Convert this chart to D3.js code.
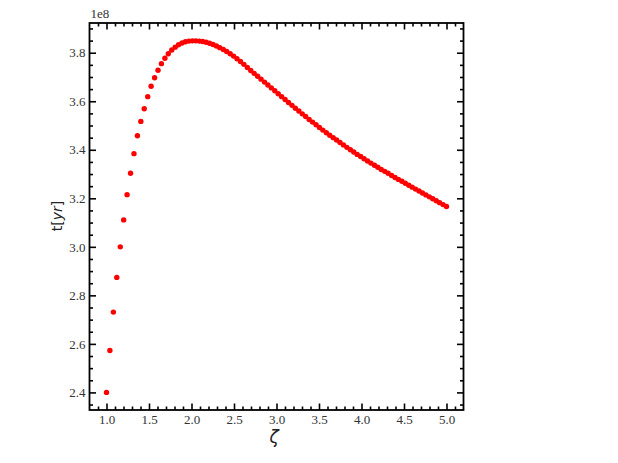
<!DOCTYPE html>
<html><head><meta charset="utf-8">
<script src="https://cdn.jsdelivr.net/npm/d3@7/dist/d3.min.js"></script>
<style>body{margin:0;background:#fff}svg{display:block}</style>
</head><body><svg id="c" width="618" height="463"></svg>
<script>
const zeta = [1.000,1.040,1.081,1.121,1.162,1.202,1.242,1.283,1.323,1.364,1.404,1.444,1.485,1.525,1.566,1.606,1.646,1.687,1.727,1.768,1.808,1.848,1.889,1.929,1.970,2.010,2.051,2.091,2.131,2.172,2.212,2.253,2.293,2.333,2.374,2.414,2.455,2.495,2.535,2.576,2.616,2.657,2.697,2.737,2.778,2.818,2.859,2.899,2.939,2.980,3.020,3.061,3.101,3.141,3.182,3.222,3.263,3.303,3.343,3.384,3.424,3.465,3.505,3.545,3.586,3.626,3.667,3.707,3.747,3.788,3.828,3.869,3.909,3.949,3.990,4.030,4.071,4.111,4.152,4.192,4.232,4.273,4.313,4.354,4.394,4.434,4.475,4.515,4.556,4.596,4.636,4.677,4.717,4.758,4.798,4.838,4.879,4.919,4.960,5.000];
const tYr = [2.400,2.573,2.731,2.874,3.000,3.111,3.215,3.303,3.384,3.458,3.517,3.569,3.619,3.662,3.697,3.728,3.755,3.777,3.796,3.811,3.823,3.833,3.840,3.845,3.848,3.849,3.849,3.848,3.846,3.843,3.839,3.834,3.828,3.821,3.813,3.805,3.796,3.786,3.775,3.764,3.752,3.739,3.727,3.715,3.703,3.691,3.679,3.667,3.655,3.643,3.631,3.619,3.607,3.595,3.583,3.571,3.560,3.548,3.537,3.525,3.514,3.503,3.492,3.481,3.470,3.460,3.450,3.440,3.430,3.420,3.410,3.400,3.391,3.381,3.372,3.363,3.354,3.345,3.336,3.328,3.319,3.311,3.303,3.294,3.286,3.278,3.270,3.262,3.254,3.246,3.238,3.230,3.222,3.214,3.206,3.198,3.190,3.182,3.174,3.166];
const xTicks = [1.0,1.5,2.0,2.5,3.0,3.5,4.0,4.5,5.0];
const xMinor = [0.9,1.1,1.2,1.3,1.4,1.6,1.7,1.8,1.9,2.1,2.2,2.3,2.4,2.6,2.7,2.8,2.9,3.1,3.2,3.3,3.4,3.6,3.7,3.8,3.9,4.1,4.2,4.3,4.4,4.6,4.7,4.8,4.9,5.1];
const yTicks = [2.4,2.6,2.8,3.0,3.2,3.4,3.6,3.8];
const yMinor = [2.35,2.45,2.5,2.55,2.65,2.7,2.75,2.85,2.9,2.95,3.05,3.1,3.15,3.25,3.3,3.35,3.45,3.5,3.55,3.65,3.7,3.75,3.85,3.9];

const svg = d3.select("#c");
const L=89.5, R=463.5, T=23, B=410;
const x = d3.scaleLinear().domain([0.8,5.2]).range([L,R]);
const y = d3.scaleLinear().domain([2.3275,3.9225]).range([B,T]);
const font = "Liberation Serif";

function styleAxis(g){
  g.select(".domain").remove();
  g.selectAll(".tick line").attr("stroke","#000").attr("stroke-width",1.6);
  g.selectAll(".tick text").attr("fill","#333").style("font-family",font).style("font-size","13px");
}
// major
svg.append("g").attr("transform",`translate(0,${B})`)
  .call(d3.axisBottom(x).tickValues(xTicks).tickFormat(d3.format(".1f")).tickSizeInner(-6.5).tickSizeOuter(0).tickPadding(5)).call(styleAxis);
svg.append("g").attr("transform",`translate(0,${T})`)
  .call(d3.axisTop(x).tickValues(xTicks).tickFormat("").tickSizeInner(-6.5).tickSizeOuter(0)).call(styleAxis);
svg.append("g").attr("transform",`translate(${L},0)`)
  .call(d3.axisLeft(y).tickValues(yTicks).tickFormat(d3.format(".1f")).tickSizeInner(-6.5).tickSizeOuter(0).tickPadding(4)).call(styleAxis);
svg.append("g").attr("transform",`translate(${R},0)`)
  .call(d3.axisRight(y).tickValues(yTicks).tickFormat("").tickSizeInner(-6.5).tickSizeOuter(0)).call(styleAxis);
// minor
svg.append("g").attr("transform",`translate(0,${B})`)
  .call(d3.axisBottom(x).tickValues(xMinor).tickFormat("").tickSizeInner(-3.5).tickSizeOuter(0)).call(styleAxis);
svg.append("g").attr("transform",`translate(0,${T})`)
  .call(d3.axisTop(x).tickValues(xMinor).tickFormat("").tickSizeInner(-3.5).tickSizeOuter(0)).call(styleAxis);
svg.append("g").attr("transform",`translate(${L},0)`)
  .call(d3.axisLeft(y).tickValues(yMinor).tickFormat("").tickSizeInner(-3.5).tickSizeOuter(0)).call(styleAxis);
svg.append("g").attr("transform",`translate(${R},0)`)
  .call(d3.axisRight(y).tickValues(yMinor).tickFormat("").tickSizeInner(-3.5).tickSizeOuter(0)).call(styleAxis);

svg.append("rect").attr("x",L).attr("y",T).attr("width",R-L).attr("height",B-T)
  .attr("fill","none").attr("stroke","#000").attr("stroke-width",1.8);

svg.append("g").selectAll("circle").data(zeta).join("circle")
  .attr("cx",(d)=>x(d)).attr("cy",(d,i)=>y(tYr[i])).attr("r",2.7).attr("fill","#f00");

svg.append("text").attr("x",L+1).attr("y",18).text("1e8")
  .attr("fill","#333").style("font-family",font).style("font-size","13px");

const yl = svg.append("text").attr("transform","translate(62,216) rotate(-90)")
  .attr("text-anchor","middle").attr("fill","#222").style("font-family","DejaVu Sans").style("font-size","14px");
yl.append("tspan").text("t[");
yl.append("tspan").style("font-style","italic").text("yr");
yl.append("tspan").text("]");

svg.append("text").attr("x",274).attr("y",443).attr("text-anchor","middle")
  .attr("fill","#222").style("font-family","DejaVu Sans").style("font-style","italic").style("font-size","17px").text("ζ");
</script></body></html>
